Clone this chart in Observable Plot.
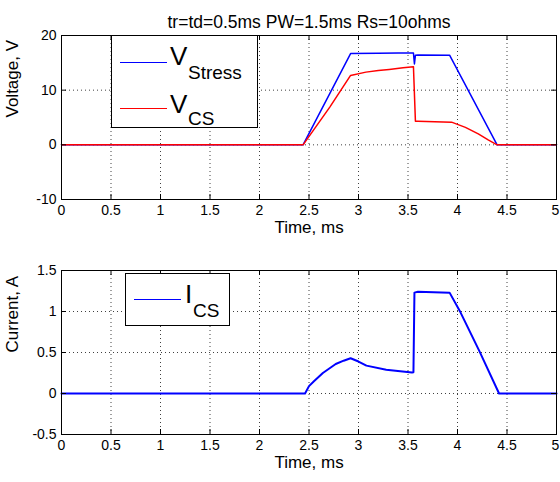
<!DOCTYPE html>
<html><head><meta charset="utf-8">
<script src="https://cdn.jsdelivr.net/npm/d3@7"></script>
<script src="https://cdn.jsdelivr.net/npm/@observablehq/plot@0.6"></script>
<style>
body{margin:0;background:#fff;font-family:"Liberation Sans",Arial,sans-serif;}
#wrap{position:relative;width:560px;height:482px;overflow:hidden;}
#top{position:absolute;left:0;top:0;}
#bot{position:absolute;left:0;top:250px;}
#leg{position:absolute;left:0;top:0;pointer-events:none;}
</style></head><body>
<div id="wrap"><div id="top"></div><div id="bot"></div>
<svg id="leg" width="560" height="482" font-family="Liberation Sans, Arial, sans-serif">
  <rect x="111.5" y="35.5" width="146" height="92" fill="#fff" stroke="#000"/>
  <line x1="120" x2="167" y1="62.5" y2="62.5" stroke="#0000ff" stroke-width="1.2"/>
  <text x="170" y="65" font-size="26">V</text>
  <text x="188" y="79" font-size="19">Stress</text>
  <line x1="120" x2="167" y1="108.5" y2="108.5" stroke="#ff0000" stroke-width="1.2"/>
  <text x="170" y="113" font-size="26">V</text>
  <text x="188" y="125" font-size="19">CS</text>
  <rect x="125.5" y="273.5" width="104" height="52" fill="#fff" stroke="#000"/>
  <line x1="134" x2="181" y1="299.5" y2="299.5" stroke="#0000ff" stroke-width="1.2"/>
  <text x="185" y="303" font-size="26">I</text>
  <text x="193" y="317" font-size="19">CS</text>
</svg>
</div>
<script>
// ---- data ----
const xTicks = [0, 0.5, 1, 1.5, 2, 2.5, 3, 3.5, 4, 4.5, 5];
const vTicks = [-10, 0, 10, 20];
const iTicks = [-0.5, 0, 0.5, 1, 1.5];

const vStressT = [0, 2.44, 2.92, 3.2, 3.4, 3.555, 3.565, 3.575, 3.6, 3.92, 4.40, 5];
const vStress  = [0, 0, 16.7, 16.75, 16.8, 16.8, 14.8, 16.4, 16.45, 16.4, 0, 0];

const vcsT = [0, 2.44, 2.71, 2.92, 3.075, 3.2, 3.31, 3.45, 3.555, 3.575, 3.6, 3.94, 4.08, 4.21, 4.31, 4.40, 5];
const vcs  = [0, 0, 6.9, 12.7, 13.3, 13.6, 13.8, 14.1, 14.3, 4.3, 4.3, 4.15, 3.2, 2.0, 0.9, 0, 0];

const iT = [0, 2.46, 2.5, 2.55, 2.64, 2.77, 2.85, 2.92, 3.0, 3.08, 3.28, 3.54, 3.555, 3.565, 3.6, 3.92, 4.03, 4.22, 4.42, 5];
const iCs = [0, 0, 0.09, 0.15, 0.25, 0.36, 0.40, 0.43, 0.39, 0.34, 0.29, 0.255, 0.26, 1.23, 1.24, 1.23, 0.99, 0.52, 0, 0];

const toRows = (t, v) => t.map((x, k) => ({t: x, v: v[k]}));

function panel({series, yDomain, yTicks, yLabel, height, marginTop, marginBottom, title}) {
  const W = 560, mL = 61, mR = 4;
  const innerH = height - marginTop - marginBottom;
  const innerW = W - mL - mR;
  const grid = {stroke: "#000", strokeOpacity: 0.75, strokeDasharray: "1,3"};
  const lastX = xTicks[xTicks.length - 1];
  const marks = [
    Plot.gridX(xTicks, grid),
    Plot.gridY(yTicks, grid),
    ...series.map(s => Plot.line(toRows(s.t, s.v), {x: "t", y: "v", stroke: s.color, strokeWidth: s.w})),
    Plot.tickX(xTicks, {x: d => d, insetTop: innerH - 5, stroke: "#000"}),
    Plot.tickX(xTicks, {x: d => d, insetBottom: innerH - 5, stroke: "#000"}),
    Plot.tickY(yTicks, {y: d => d, insetRight: innerW - 5, stroke: "#000"}),
    Plot.tickY(yTicks, {y: d => d, insetLeft: innerW - 5, stroke: "#000"}),
    Plot.frame({stroke: "#000"}),
    Plot.axisX(xTicks.filter(d => d !== lastX), {tickSize: 0, tickPadding: 6, tickFormat: d => String(d), label: null, fontSize: 14}),
    Plot.axisX([lastX], {tickSize: 0, tickPadding: 6, tickFormat: d => String(d), label: null, fontSize: 14, dx: -1}),
    Plot.axisY(yTicks, {tickSize: 0, tickPadding: 5, tickFormat: d => String(d), label: null, fontSize: 14}),
    Plot.text(["Time, ms"], {frameAnchor: "bottom", dy: 33, fontSize: 17}),
    Plot.text([yLabel], {frameAnchor: "left", dx: -49, rotate: -90, fontSize: 17})
  ];
  if (title) marks.push(Plot.text([title], {frameAnchor: "top", dy: -20, fontSize: 17.5}));
  return Plot.plot({
    width: W, height, marginLeft: mL, marginRight: mR, marginTop, marginBottom,
    style: {fontFamily: "Liberation Sans, Arial, sans-serif", fontSize: "14px", color: "#000", background: "transparent", overflow: "visible"},
    x: {domain: [0, 5]},
    y: {domain: yDomain},
    marks
  });
}

document.getElementById("top").append(panel({
  series: [
    {t: vStressT, v: vStress, color: "#0000ff", w: 1.5},
    {t: vcsT, v: vcs, color: "#ff0000", w: 1.5}
  ],
  yDomain: [-10, 20], yTicks: vTicks, yLabel: "Voltage, V",
  height: 250, marginTop: 35, marginBottom: 51,
  title: "tr=td=0.5ms PW=1.5ms Rs=10ohms"
}));

document.getElementById("bot").append(panel({
  series: [{t: iT, v: iCs, color: "#0000ff", w: 2}],
  yDomain: [-0.5, 1.5], yTicks: iTicks, yLabel: "Current, A",
  height: 232, marginTop: 20, marginBottom: 48
}));
</script>
</body></html>
